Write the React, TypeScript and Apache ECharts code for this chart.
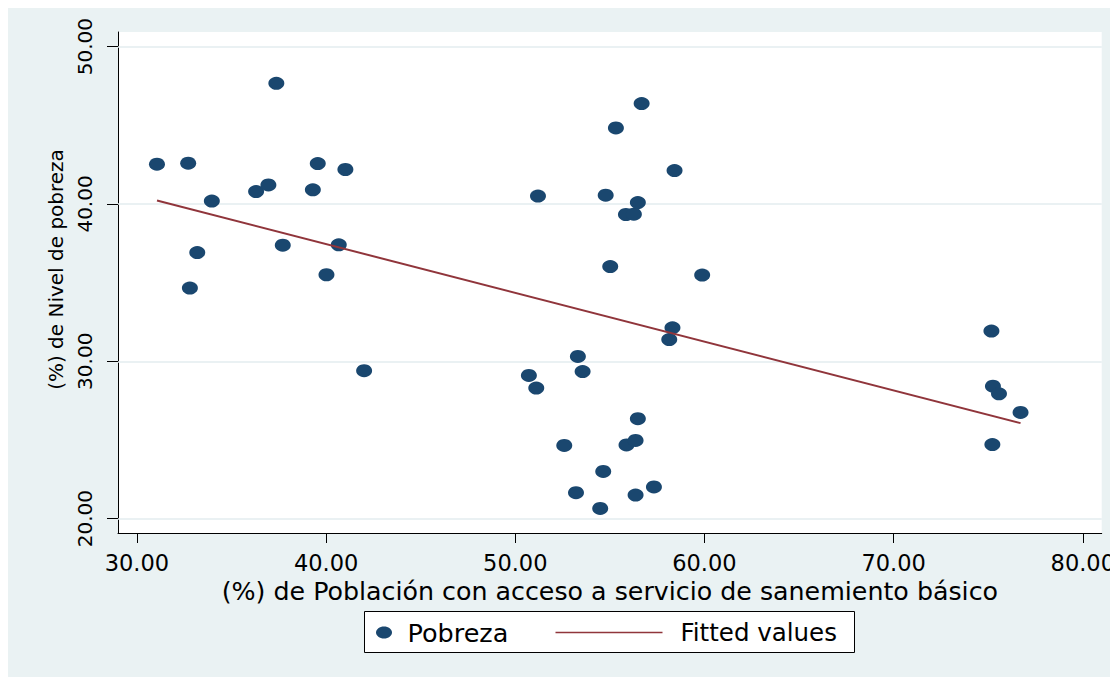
import React, { useEffect, useRef } from "react";
import * as echarts from "echarts";

const FONT = "'DejaVu Sans', 'Liberation Sans', sans-serif";

const xTicks = [30, 40, 50, 60, 70, 80];
const yTicks = [20, 30, 40, 50];

const xTitle = "(%) de Población con acceso a servicio de sanemiento básico";
const yTitle = "(%) de Nivel de pobreza";

const seriesNames = ["Pobreza", "Fitted values"];

const accessX = [
  31.06, 32.71, 32.8, 33.19, 33.96, 36.3, 36.95, 37.37, 37.71, 39.3, 39.56, 40.02,
  40.67, 41.02, 42.01, 50.72, 51.11, 51.2, 52.59, 53.21, 53.31, 53.56, 54.49, 54.65,
  54.78, 55.02, 55.32, 55.88, 55.85, 56.27, 56.36, 56.36, 56.48, 56.48, 56.68, 57.33,
  58.14, 58.31, 58.42, 59.88, 75.17, 75.25, 75.57, 75.22, 76.71,
];
const povertyY = [
  42.53, 42.59, 34.65, 36.91, 40.18, 40.79, 41.21, 47.67, 37.38, 40.9, 42.57, 35.5,
  37.4, 42.19, 29.4, 29.1, 28.3, 40.5, 24.65, 21.65, 30.31, 29.35, 20.65, 23.0,
  40.56, 36.02, 44.83, 24.68, 39.33, 39.35, 24.97, 21.5, 40.09, 26.35, 46.38, 22.01,
  31.38, 32.13, 42.12, 35.48, 31.92, 28.42, 27.93, 24.71, 26.75,
];

const fitX = [31.06, 76.71];
const fitY = [40.22, 26.07];

const DOT = "#1a476f";
const LINE = "#90353b";
const BG = "#eaf2f3";
const GRIDLINE = "#e3ecef";

export default function App() {
  const ref = useRef<HTMLDivElement>(null);

  useEffect(() => {
    document.body.style.overflow = "hidden";
    const chart = echarts.init(ref.current as HTMLDivElement, null, { renderer: "svg" });

    const scatterData = accessX.map((x, i) => [x, povertyY[i]]);
    const fitData = fitX.map((x, i) => [x, fitY[i]]);

    const option: any = {
      animation: false,
      backgroundColor: BG,
      grid: {
        left: 110,
        top: 24,
        width: 984,
        height: 501,
        show: true,
        backgroundColor: "#ffffff",
        borderWidth: 0,
        containLabel: false,
      },
      xAxis: {
        type: "value",
        min: 29,
        max: 81,
        axisLine: { show: true, onZero: false, lineStyle: { color: "#000", width: 1 } },
        axisTick: {
          show: true,
          length: 10,
          customValues: xTicks,
          lineStyle: { color: "#000", width: 1 },
        },
        axisLabel: {
          customValues: xTicks,
          formatter: (v: number) => v.toFixed(2),
          fontFamily: FONT,
          fontSize: 22.5,
          color: "#000",
          margin: 18,
        },
        splitLine: { show: false },
        name: xTitle,
        nameLocation: "middle",
        nameGap: 44,
        nameTextStyle: { fontFamily: FONT, fontSize: 25.3, color: "#000" },
      },
      yAxis: {
        type: "value",
        min: 19.085,
        max: 50.93,
        axisLine: { show: true, onZero: false, lineStyle: { color: "#000", width: 1 } },
        axisTick: {
          show: true,
          length: 11,
          customValues: yTicks,
          lineStyle: { color: "#000", width: 1 },
        },
        axisLabel: {
          customValues: yTicks,
          formatter: (v: number) => v.toFixed(2),
          rotate: 90,
          fontFamily: FONT,
          fontSize: 20,
          color: "#000",
          margin: 23,
        },
        splitLine: { show: false },
        name: yTitle,
        nameLocation: "middle",
        nameGap: 52,
        nameTextStyle: {
          fontFamily: FONT,
          fontSize: 20,
          color: "#000",
          padding: [0, 0, 0, 26],
        },
      },
      series: [
        {
          name: seriesNames[0],
          type: "scatter",
          data: scatterData,
          symbol: "circle",
          symbolSize: [16, 13],
          itemStyle: { color: DOT, opacity: 1 },
          z: 2,
          markLine: {
            silent: true,
            symbol: "none",
            z: 1,
            label: { show: false },
            lineStyle: { color: GRIDLINE, width: 1.5, type: "solid" },
            data: yTicks.map((v) => ({ yAxis: v })),
          },
        },
        {
          name: seriesNames[1],
          type: "line",
          data: fitData,
          showSymbol: false,
          symbol: "none",
          lineStyle: { color: LINE, width: 2 },
          z: 3,
        },
      ],
      graphic: [
        {
          type: "group",
          left: 356,
          top: 603,
          children: [
            {
              type: "rect",
              shape: { x: 0, y: 0, width: 490, height: 41 },
              style: { fill: "#fff", stroke: "#000", lineWidth: 1 },
            },
            {
              type: "ellipse",
              shape: { cx: 19.5, cy: 21, rx: 8, ry: 6 },
              style: { fill: DOT },
            },
            {
              type: "text",
              x: 43,
              y: 21,
              style: {
                text: seriesNames[0],
                fontFamily: FONT,
                fontSize: 25.5,
                fill: "#000",
                verticalAlign: "middle",
                align: "left",
              },
            },
            {
              type: "line",
              shape: { x1: 191, y1: 21, x2: 298, y2: 21 },
              style: { stroke: LINE, lineWidth: 1.5 },
            },
            {
              type: "text",
              x: 316,
              y: 21,
              style: {
                text: seriesNames[1],
                fontFamily: FONT,
                fontSize: 24.5,
                fill: "#000",
                verticalAlign: "middle",
                align: "left",
              },
            },
          ],
        },
      ],
    };

    chart.setOption(option);
    return () => chart.dispose();
  }, []);

  return <div ref={ref} style={{ width: 1110, height: 669 }} />;
}
